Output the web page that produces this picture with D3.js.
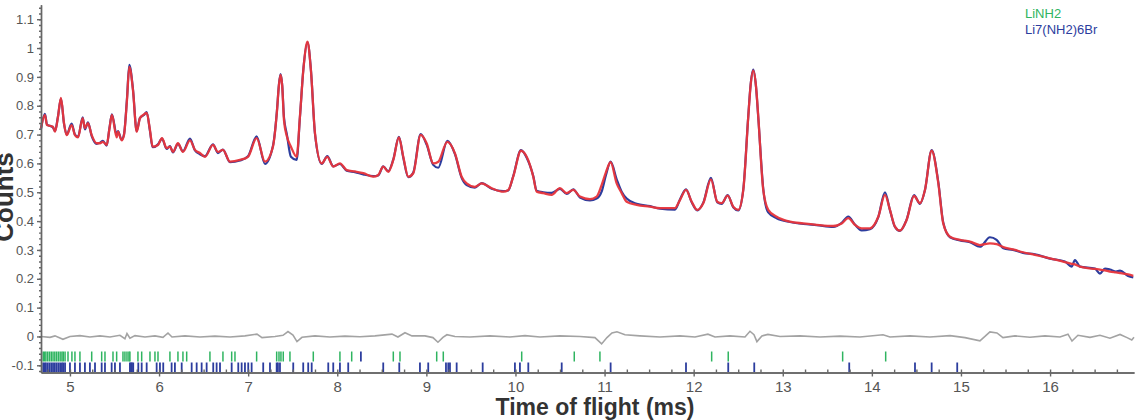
<!DOCTYPE html>
<html>
<head>
<meta charset="utf-8">
<script src="https://cdn.jsdelivr.net/npm/d3@7"></script>
<style>
  body { margin: 0; background: #fff; }
  svg { display: block; font-family: "Liberation Sans", Arial, sans-serif; }
</style>
</head>
<body>
<script>
var width = 1140;
var height = 420;

// time of flight (ms) and calculated / observed counts
var tof = [4.675,4.719,4.742,4.809,4.832,4.865,4.899,4.933,4.963,5.019,5.056,5.090,5.143,5.168,5.202,5.244,5.300,5.337,5.370,5.412,
  5.443,5.471,5.524,5.539,5.580,5.606,5.640,5.666,5.707,5.749,5.786,5.831,5.861,5.898,5.928,5.988,6.033,6.085,6.122,6.156,
  6.212,6.268,6.347,6.403,6.459,6.515,6.605,6.661,6.717,6.796,6.908,6.998,7.095,7.189,7.278,7.323,7.345,7.363,7.382,7.402,
  7.435,7.480,7.544,7.581,7.621,7.666,7.705,7.750,7.825,7.888,7.955,8.030,8.106,8.199,8.292,8.404,8.460,8.516,8.572,8.629,
  8.692,8.741,8.797,8.853,8.936,9.003,9.077,9.134,9.235,9.321,9.396,9.452,9.545,9.621,9.733,9.863,9.919,9.975,10.062,10.126,
  10.200,10.238,10.312,10.406,10.499,10.575,10.649,10.724,10.836,10.911,10.967,11.016,11.068,11.136,11.192,11.248,11.360,11.510,11.622,11.790,
  11.846,11.914,11.978,12.040,12.108,12.194,12.265,12.314,12.382,12.444,12.501,12.557,12.613,12.639,12.669,12.699,12.725,12.781,12.837,12.931,
  13.081,13.230,13.380,13.567,13.661,13.735,13.810,13.885,13.979,14.072,14.147,14.203,14.259,14.315,14.390,14.473,14.540,14.596,14.671,14.746,
  14.801,14.877,14.989,15.101,15.213,15.325,15.400,15.475,15.584,15.696,15.830,15.999,16.167,16.242,16.279,16.336,16.504,16.560,16.616,16.672,
  16.740,16.785,16.875,16.934];

var calc = [.722,.768,.733,.727,.710,.760,.827,.740,.698,.733,.698,.690,.757,.722,.740,.698,.670,.670,.675,.664,
  .720,.768,.690,.710,.680,.698,.820,.935,.855,.710,.757,.770,.775,.716,.658,.664,.688,.653,.658,.640,
  .670,.640,.680,.647,.636,.623,.664,.640,.647,.606,.612,.623,.688,.606,.658,.780,.870,.907,.870,.750,
  .693,.658,.623,.762,.930,1.022,.920,.705,.600,.623,.589,.600,.577,.572,.566,.554,.560,.589,.571,.612,
  .690,.623,.554,.566,.699,.670,.600,.606,.675,.635,.554,.531,.519,.531,.514,.502,.508,.554,.644,.623,
  .554,.502,.497,.491,.514,.497,.508,.485,.476,.485,.525,.570,.604,.531,.497,.467,.456,.450,.445,.445,
  .473,.508,.467,.439,.462,.545,.467,.462,.488,.450,.439,.508,.762,.870,.922,.870,.762,.508,.439,.415,
  .398,.392,.387,.383,.392,.410,.387,.375,.375,.415,.491,.439,.381,.367,.404,.487,.462,.508,.644,.531,
  .392,.346,.335,.329,.317,.323,.320,.310,.302,.292,.283,.271,.258,.252,.250,.242,.234,.232,.229,.225,
  .222,.220,.215,.210];

var obs = [.720,.772,.735,.725,.712,.762,.825,.738,.700,.738,.700,.692,.760,.718,.742,.695,.668,.672,.678,.662,
  .722,.770,.700,.712,.682,.700,.825,.942,.858,.712,.758,.768,.778,.712,.656,.666,.686,.650,.660,.638,
  .668,.642,.686,.645,.632,.625,.666,.636,.648,.604,.610,.625,.694,.598,.660,.782,.872,.910,.872,.760,
  .700,.623,.612,.760,.932,1.020,.922,.702,.598,.625,.590,.598,.575,.570,.562,.556,.558,.590,.573,.614,
  .692,.620,.552,.568,.702,.665,.595,.585,.678,.632,.550,.525,.516,.532,.512,.504,.506,.556,.646,.620,
  .556,.505,.500,.498,.512,.494,.510,.482,.472,.478,.502,.560,.606,.545,.502,.478,.460,.452,.443,.440,
  .475,.510,.465,.437,.464,.550,.465,.460,.490,.448,.437,.510,.765,.872,.925,.868,.760,.512,.430,.410,
  .397,.390,.386,.380,.394,.416,.388,.368,.372,.414,.500,.438,.380,.366,.405,.490,.460,.508,.646,.534,
  .395,.344,.333,.327,.311,.344,.335,.306,.300,.290,.285,.270,.260,.242,.265,.242,.235,.218,.235,.232,
  .225,.228,.210,.205];

// difference curve (obs - calc)
var diffTof = [4.675,4.776,4.832,4.921,5.000,5.112,5.224,5.337,5.449,5.561,5.617,5.640,5.673,5.730,5.842,5.954,6.044,6.100,6.145,6.291,
  6.459,6.627,6.796,6.964,7.099,7.155,7.301,7.391,7.447,7.503,7.548,7.604,7.750,7.918,8.086,8.255,8.423,8.614,8.681,8.760,
  8.838,8.984,9.074,9.130,9.186,9.231,9.321,9.489,9.714,9.938,10.107,10.275,10.499,10.724,10.892,10.967,11.027,11.083,11.139,11.229,
  11.397,11.622,11.846,12.015,12.160,12.239,12.407,12.576,12.632,12.677,12.710,12.766,12.833,12.969,13.193,13.418,13.642,13.866,14.125,14.203,
  14.428,14.652,14.877,15.045,15.213,15.269,15.325,15.404,15.471,15.606,15.774,15.943,16.111,16.201,16.246,16.313,16.448,16.560,16.672,16.785,
  16.864,16.917,16.942];
var diff = [0,-.003,.002,-.010,0,.003,-.002,.002,-.002,.004,-.008,.010,-.006,.003,-.002,.002,-.003,.012,-.002,.002,
  -.002,.001,-.002,.002,.008,-.004,0,.004,.017,.005,-.018,-.003,.002,-.002,.001,-.001,.002,.008,-.002,.013,
  .002,.002,-.004,-.020,-.003,.006,0,-.002,.002,-.002,.003,-.002,.002,0,-.004,-.026,-.004,.012,.016,.006,
  .002,-.002,.002,-.002,.008,-.002,.002,-.002,.018,.006,-.018,.002,.007,0,.002,-.002,.001,-.002,.006,-.002,
  .002,-.002,.003,-.004,-.015,0,.016,.012,-.004,.002,-.003,.002,-.002,.008,-.016,.004,-.003,.004,-.006,.007,
  -.004,-.012,-.003];

// reflection positions
var liNH2Ticks = [4.70,4.715,4.73,4.75,4.77,4.79,4.81,4.83,4.85,4.87,4.89,4.91,4.925,4.945,4.978,5.022,5.056,5.112,5.244,5.356,
  5.393,5.483,5.524,5.595,5.617,5.640,5.662,5.673,5.763,5.805,5.898,5.954,5.988,6.122,6.212,6.268,6.310,6.571,6.717,6.815,
  6.852,7.095,7.320,7.346,7.368,7.394,7.469,7.731,8.030,8.162,8.629,8.704,9.116,9.190,10.070,10.660,10.948,12.202,12.388,13.672,
  14.155];
var brTicks = [4.70,4.715,4.73,4.75,4.77,4.79,4.81,4.83,4.85,4.87,4.89,4.91,4.925,4.945,5.000,5.056,5.112,5.168,5.224,5.281,
  5.356,5.393,5.468,5.505,5.561,5.673,5.685,5.696,5.710,5.767,5.805,5.861,5.973,6.010,6.047,6.141,6.178,6.254,6.366,6.422,
  6.478,6.534,6.608,6.646,6.684,6.815,6.889,6.927,6.964,7.001,7.039,7.169,7.245,7.320,7.334,7.357,7.506,7.618,7.674,7.713,
  7.899,7.955,8.030,8.123,8.516,8.696,8.928,9.021,9.220,9.246,9.265,9.340,9.632,9.994,10.050,10.144,10.519,11.068,11.914,12.388,
  12.680,13.746,14.484,14.671,14.958];
var brUpperTicks = [8.265];

var xTicks = [5,6,7,8,9,10,11,12,13,14,15,16];
var yTicks = [-0.1,0,0.1,0.2,0.3,0.4,0.5,0.6,0.7,0.8,0.9,1,1.1];
var yTickLabels = ['-0.1','0','0.1','0.2','0.3','0.4','0.5','0.6','0.7','0.8','0.9','1','1.1'];
var legendNames = ['LiNH2', 'Li7(NH2)6Br'];
var legendColors = ['#2fb460', '#2c3d9e'];

var x = d3.scaleLinear().domain([4.675, 16.942]).range([41, 1134]);
var y = d3.scaleLinear().domain([-0.125, 1.15]).range([372.5, 4.8]);

var svg = d3.select('body')
  .append('svg')
  .attr('width', width)
  .attr('height', height);

// difference
var diffLine = d3.line()
  .x(function(d, i) { return x(diffTof[i]); })
  .y(function(d) { return y(d); });
svg.append('path')
  .datum(diff)
  .attr('d', diffLine)
  .attr('fill', 'none')
  .attr('stroke', '#a3a3a3')
  .attr('stroke-width', 1.6);

// observed + calculated
var line = d3.line()
  .curve(d3.curveMonotoneX)
  .x(function(d, i) { return x(tof[i]); })
  .y(function(d) { return y(d); });
svg.append('path')
  .datum(obs)
  .attr('d', line)
  .attr('fill', 'none')
  .attr('stroke', '#2c3d9e')
  .attr('stroke-width', 2.2);
svg.append('path')
  .datum(calc)
  .attr('d', line)
  .attr('fill', 'none')
  .attr('stroke', '#e8353b')
  .attr('stroke-width', 2.3)
  .attr('stroke-opacity', 0.95);

// reflection tick rows
function tickRow(data, color, y0, y1, w) {
  svg.append('g').selectAll('line')
    .data(data)
    .enter().append('line')
    .attr('x1', function(d) { return x(d); })
    .attr('x2', function(d) { return x(d); })
    .attr('y1', y0)
    .attr('y2', y1)
    .attr('stroke', color)
    .attr('stroke-width', w);
}
tickRow(liNH2Ticks, legendColors[0], 351.5, 361.5, 1.5);
tickRow(brTicks, legendColors[1], 362.5, 372, 1.8);
tickRow(brUpperTicks, legendColors[1], 351.5, 361.5, 1.8);

// axes
var yAxis = svg.append('g')
  .attr('transform', 'translate(41,0)')
  .call(d3.axisLeft(y).tickValues(yTicks).tickSize(4).tickSizeOuter(0).tickPadding(3)
    .tickFormat(function(d, i) { return yTickLabels[i]; }));
svg.append('g')
  .attr('transform', 'translate(41,0)')
  .call(d3.axisLeft(y).tickValues(d3.range(-12, 115, 2).map(function(d) { return d / 100; }))
    .tickSize(2).tickSizeOuter(0).tickFormat(''));

var xAxis = svg.append('g')
  .attr('transform', 'translate(0,372.5)')
  .call(d3.axisBottom(x).tickValues(xTicks).tickSize(4).tickSizeOuter(0).tickPadding(5)
    .tickFormat(d3.format('d')));
svg.append('g')
  .attr('transform', 'translate(0,372.5)')
  .call(d3.axisTop(x).tickValues(d3.range(19, 68).map(function(d) { return d / 4; }))
    .tickSize(3).tickSizeOuter(0).tickFormat(''));

svg.selectAll('.domain, .tick line')
  .attr('stroke', '#666')
  .attr('stroke-width', 1.4);
yAxis.selectAll('text').attr('font-size', 13).attr('fill', '#555').attr('font-family', 'Liberation Sans, Arial, sans-serif');
xAxis.selectAll('text').attr('font-size', 15).attr('fill', '#555').attr('font-family', 'Liberation Sans, Arial, sans-serif');

// axis titles
svg.append('text')
  .attr('transform', 'translate(13,197) rotate(-90)')
  .attr('text-anchor', 'middle')
  .attr('font-size', 26)
  .attr('font-weight', 'bold')
  .attr('fill', '#333')
  .text('Counts');
svg.append('text')
  .attr('x', 595)
  .attr('y', 415)
  .attr('text-anchor', 'middle')
  .attr('font-size', 23)
  .attr('font-weight', 'bold')
  .attr('fill', '#333')
  .text('Time of flight (ms)');

// legend
svg.append('g').selectAll('text')
  .data(legendNames)
  .enter().append('text')
  .attr('x', 1025)
  .attr('y', function(d, i) { return 18 + i * 16; })
  .attr('font-size', 13)
  .attr('fill', function(d, i) { return legendColors[i]; })
  .text(function(d) { return d; });
</script>
</body>
</html>
